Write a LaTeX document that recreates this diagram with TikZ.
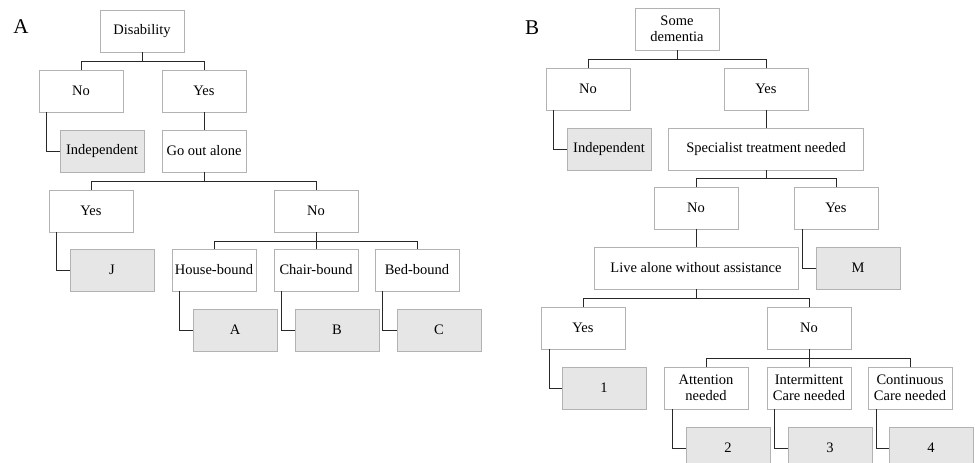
\documentclass[tikz,border=0pt]{standalone}
\usepackage{fontspec}
\setmainfont{Liberation Serif}
\usepackage{xcolor}
\definecolor{boxline}{RGB}{178,178,178}
\definecolor{leafgray}{RGB}{230,230,230}
\definecolor{wire}{RGB}{40,40,40}

\begin{document}
\begin{tikzpicture}[x=1pt, y=-1pt,
    box/.style={rectangle, draw=boxline, fill=white, line width=0.8pt, minimum width=84pt, minimum height=42pt, inner sep=0pt, align=center, font=\fontsize{14.5}{15.5}\selectfont},
    leaf/.style={box, fill=leafgray},
    wide/.style={box, minimum width=#1},
    link/.style={draw=wire, line width=1pt},
    panel/.style={font=\fontsize{21}{21}\selectfont}]
    \useasboundingbox (0,0) rectangle (975,463);
    \clip (0,0) rectangle (975,463);

    % Panel A
    \node[panel] (labA) at (21,27) {A};
    \node[box] (dis) at (142,31) {Disability};
    \node[box] (aNo) at (81,91) {No};
    \node[box] (aYes) at (204,91) {Yes};
    \node[leaf] (aInd) at (102,151) {Independent};
    \node[box] (goOut) at (204,151) {Go out alone};
    \node[box] (goYes) at (91,211) {Yes};
    \node[box] (goNo) at (316,211) {No};
    \node[leaf] (leafJ) at (112,270) {J};
    \node[box] (house) at (214,270) {House-bound};
    \node[box] (chair) at (316,270) {Chair-bound};
    \node[box] (bed) at (417,270) {Bed-bound};
    \node[leaf] (leafA) at (235,330) {A};
    \node[leaf] (leafB) at (337,330) {B};
    \node[leaf] (leafC) at (439,330) {C};

    \draw[link] (dis.south) -- ++(0,9) -| (aNo.north);
    \draw[link] (dis.south) ++(0,9) -| (aYes.north);
    \draw[link] ([xshift=8pt]aNo.south west) |- (aInd.west);
    \draw[link] (aYes) -- (goOut);
    \draw[link] (goOut.south) -- ++(0,9) -| (goYes.north);
    \draw[link] (goOut.south) ++(0,9) -| (goNo.north);
    \draw[link] ([xshift=8pt]goYes.south west) |- (leafJ.west);
    \draw[link] (goNo.south) -- ++(0,9) -| (house.north);
    \draw[link] (goNo.south) ++(0,9) -| (bed.north);
    \draw[link] (goNo) -- (chair);
    \draw[link] ([xshift=8pt]house.south west) |- (leafA.west);
    \draw[link] ([xshift=8pt]chair.south west) |- (leafB.west);
    \draw[link] ([xshift=8pt]bed.south west) |- (leafC.west);

    % Panel B
    \node[panel] (labB) at (532,28) {B};
    \node[box] (dem) at (677,29) {Some\\dementia};
    \node[box] (bNo) at (588,89) {No};
    \node[box] (bYes) at (766,89) {Yes};
    \node[leaf] (bInd) at (609,149) {Independent};
    \node[wide=195pt] (spec) at (766,149) {Specialist treatment needed};
    \node[box] (spNo) at (696,208) {No};
    \node[box] (spYes) at (836,208) {Yes};
    \node[wide=204pt] (live) at (696,268) {Live alone without assistance};
    \node[leaf] (leafM) at (858,268) {M};
    \node[box] (lvYes) at (583,328) {Yes};
    \node[box] (lvNo) at (809,328) {No};
    \node[leaf] (leaf1) at (604,388) {1};
    \node[box] (attn) at (706,388) {Attention\\needed};
    \node[box] (inter) at (809,388) {Intermittent\\Care needed};
    \node[box] (cont) at (910,388) {Continuous\\Care needed};
    \node[leaf] (leaf2) at (728,448) {2};
    \node[leaf] (leaf3) at (830,448) {3};
    \node[leaf] (leaf4) at (931,448) {4};

    \draw[link] (dem.south) -- ++(0,9) -| (bNo.north);
    \draw[link] (dem.south) ++(0,9) -| (bYes.north);
    \draw[link] ([xshift=8pt]bNo.south west) |- (bInd.west);
    \draw[link] (bYes) -- (spec);
    \draw[link] (spec.south) -- ++(0,8) -| (spNo.north);
    \draw[link] (spec.south) ++(0,8) -| (spYes.north);
    \draw[link] (spNo) -- (live);
    \draw[link] ([xshift=9pt]spYes.south west) |- (leafM.west);
    \draw[link] (live.south) -- ++(0,9) -| (lvYes.north);
    \draw[link] (live.south) ++(0,9) -| (lvNo.north);
    \draw[link] ([xshift=9pt]lvYes.south west) |- (leaf1.west);
    \draw[link] (lvNo.south) -- ++(0,9) -| (attn.north);
    \draw[link] (lvNo.south) ++(0,9) -| (cont.north);
    \draw[link] (lvNo) -- (inter);
    \draw[link] ([xshift=9pt]attn.south west) |- (leaf2.west);
    \draw[link] ([xshift=8pt]inter.south west) |- (leaf3.west);
    \draw[link] ([xshift=9pt]cont.south west) |- (leaf4.west);
\end{tikzpicture}
\end{document}
